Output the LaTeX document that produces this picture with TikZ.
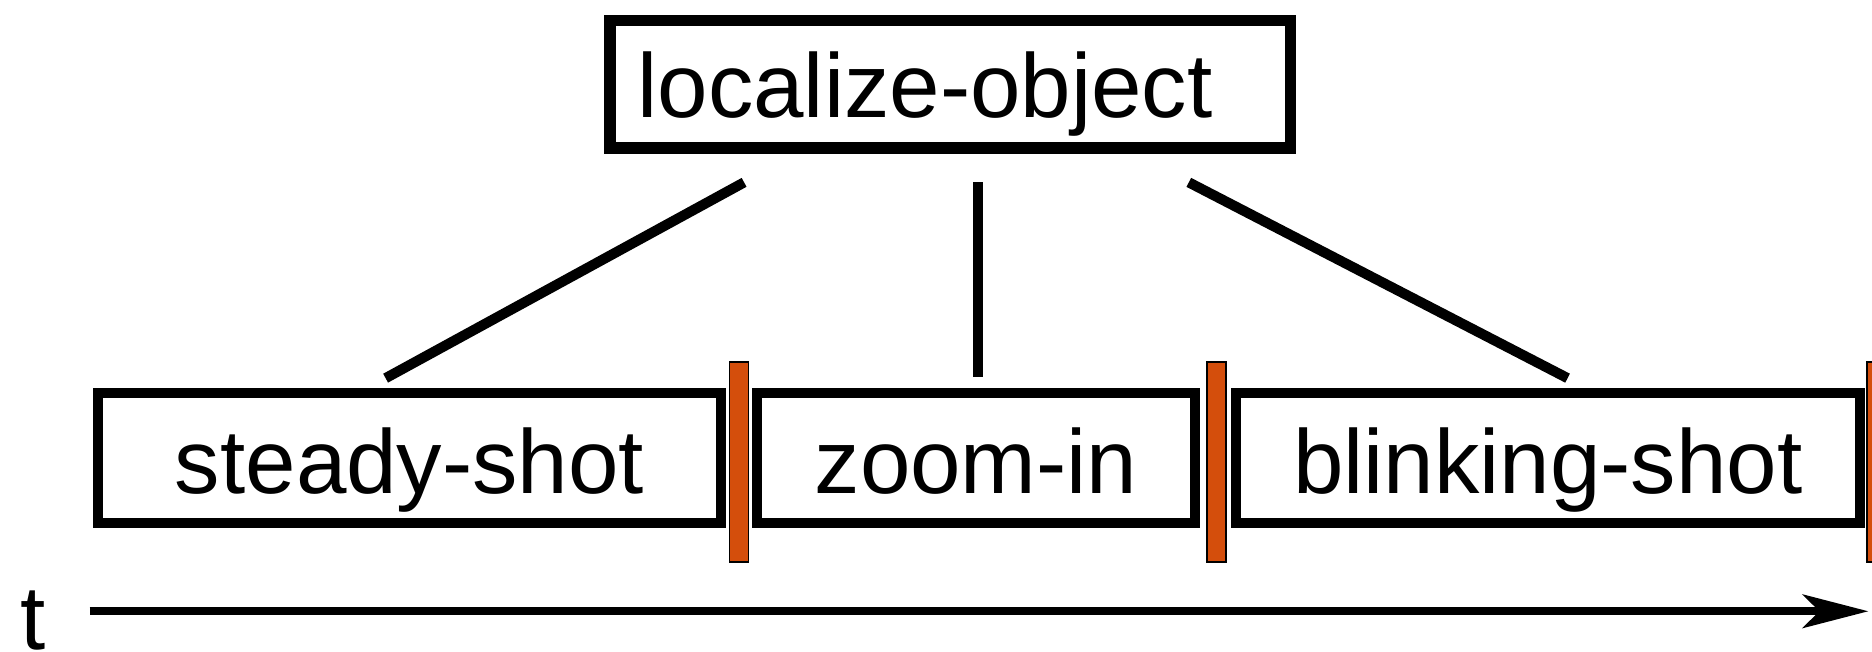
\documentclass[tikz,border=0pt]{standalone}
\usepackage{fontspec}
\setmainfont{Liberation Sans}
\usetikzlibrary{arrows.meta,calc}
\definecolor{barorange}{RGB}{212,78,12}
\begin{document}
\begin{tikzpicture}[x=1pt,y=-1pt,
  bigfont/.style={font=\fontsize{76}{90}\selectfont},
  topbox/.style={draw,line width=9.5pt,minimum width=570pt,minimum height=107pt,
    inner xsep=23pt,inner ysep=0pt,text width=524pt,align=left,
    text height=55pt,text depth=0pt,bigfont},
  stepbox/.style={draw,line width=8.5pt,minimum height=109pt,inner sep=0pt,
    text height=59pt,text depth=0pt,bigfont,anchor=center},
  bar/.style={draw=black,line width=1.5pt,fill=barorange,minimum width=16pt,
    minimum height=168pt,inner sep=0pt},
  conn/.style={line width=8.5pt},
  timeline/.style={line width=7pt,-{Stealth[length=55pt,width=28pt,inset=14pt]}}]
\useasboundingbox (0,0) rectangle (1568,546);
\clip (0,0) rectangle (1568,546);

\node[topbox] (top) at (796,70.5) {localize-object};

\node[stepbox,minimum width=522pt] (b1) at (343,383.5) {steady-shot};
\node[stepbox,minimum width=367pt] (b2) at (817.5,383.5) {zoom-in};
\node[stepbox,minimum width=523pt] (b3) at (1296.5,383.5) {blinking-shot};

\node[bar] (bar1) at (619,387) {};
\node[bar] (bar2) at (1019,387) {};
\node[bar] (bar3) at (1572,387) {};

\draw[conn] ([shift={(117,24)}]top.south west) -- ([shift={(-20,-8)}]b1.north);
\draw[conn] ([shift={(23,24)}]top.south) -- ([shift={(1.5,-9)}]b2.north);
\draw[conn] ([shift={(-90,24)}]top.south east) -- ([shift={(16.5,-8)}]b3.north);

\coordinate (t0) at (75,512);
\coordinate (t1) at (1565,512);
\draw[timeline] (t0) -- (t1);
\node[bigfont,anchor=base west,inner sep=0pt] (tlabel) at (17,544) {t};
\end{tikzpicture}
\end{document}
